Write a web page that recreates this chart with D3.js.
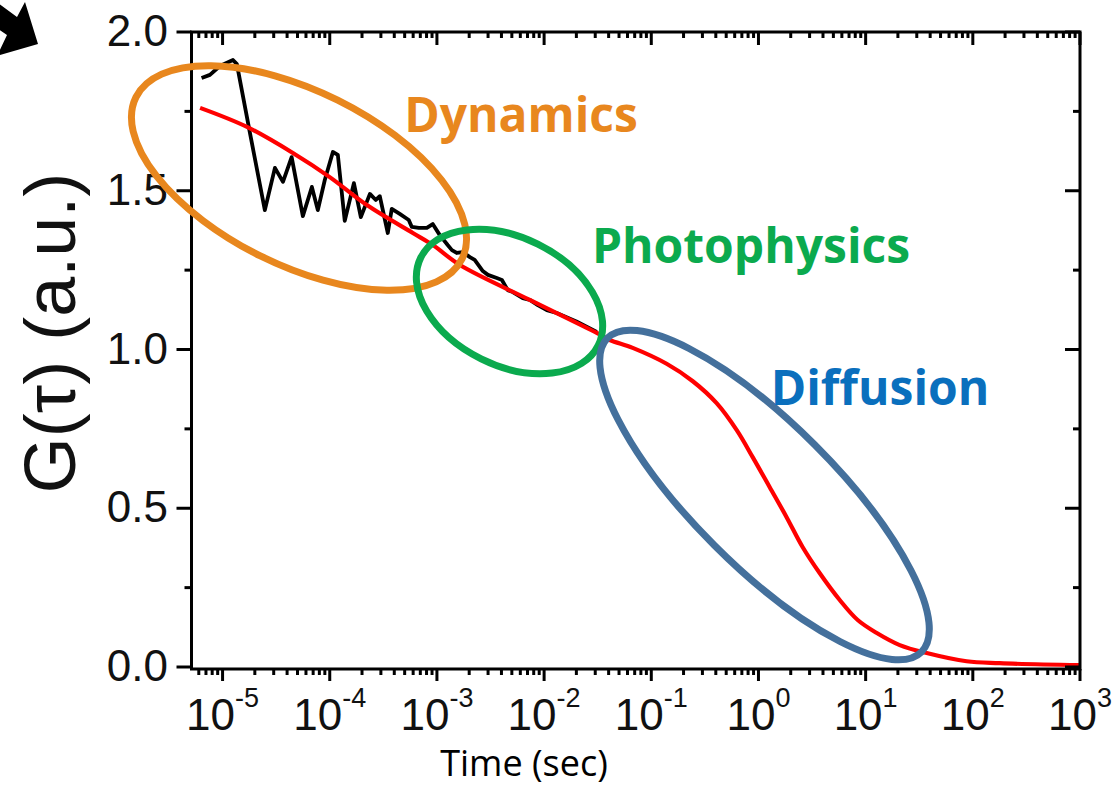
<!DOCTYPE html>
<html>
<head>
<meta charset="utf-8">
<script src="https://cdn.jsdelivr.net/npm/d3@7/dist/d3.min.js"></script>
<style>
  html, body { margin: 0; padding: 0; background: #fff; }
  svg { display: block; }
</style>
</head>
<body>
<svg id="chart" width="1113" height="788"></svg>
<script>
// ---------------- data ----------------
const fitTime = [6.17e-6, 1.69e-5, 4.53e-5, 1.00e-4, 2.22e-4, 5.96e-4, 9.16e-4, 1.64e-3, 7.35e-3,
  0.0310, 0.0410, 0.0671, 0.139, 0.244, 0.407, 0.627, 0.883, 1.27, 1.83, 2.58, 3.72, 5.73, 8.43,
  12.7, 20.8, 37.1, 87.5, 178, 1000];
const fitG = [1.761, 1.701, 1.619, 1.543, 1.455, 1.367, 1.329, 1.266, 1.156,
  1.052, 1.030, 1.005, 0.955, 0.900, 0.831, 0.746, 0.661, 0.567, 0.472, 0.378, 0.296, 0.211, 0.148,
  0.107, 0.069, 0.044, 0.018, 0.012, 0.006];

const dataTime = [6.37e-6, 7.62e-6, 9.44e-6, 1.25e-5, 1.36e-5, 1.80e-5, 2.48e-5, 3.08e-5, 3.66e-5, 4.41e-5,
  5.61e-5, 6.81e-5, 7.74e-5, 8.99e-5, 1.07e-4, 1.19e-4, 1.38e-4, 1.68e-4, 1.95e-4, 2.37e-4,
  2.69e-4, 2.93e-4, 3.48e-4, 3.79e-4, 4.50e-4, 5.46e-4, 5.83e-4, 6.78e-4, 8.05e-4, 9.14e-4,
  1.06e-3, 1.26e-3, 1.38e-3, 1.53e-3, 1.74e-3, 2.03e-3, 2.25e-3, 2.68e-3, 2.99e-3, 3.62e-3,
  4.04e-3, 4.58e-3, 5.10e-3, 6.32e-3, 7.36e-3, 8.73e-3, 0.0106, 0.0131, 0.0200, 0.0310];
const dataG = [1.855, 1.865, 1.893, 1.912, 1.899, 1.682, 1.439, 1.572, 1.528, 1.606,
  1.420, 1.512, 1.439, 1.534, 1.622, 1.613, 1.405, 1.524, 1.417, 1.490,
  1.471, 1.483, 1.367, 1.443, 1.427, 1.408, 1.386, 1.383, 1.383, 1.395,
  1.361, 1.329, 1.313, 1.304, 1.307, 1.291, 1.282, 1.247, 1.235, 1.225,
  1.219, 1.187, 1.181, 1.162, 1.156, 1.140, 1.124, 1.115, 1.088, 1.055];

const yTicks = [0, 0.5, 1.0, 1.5, 2.0];
const yTickLabels = ["0.0", "0.5", "1.0", "1.5", "2.0"];
const yMinorTicks = [0.25, 0.75, 1.25, 1.75];
const xExponents = [-5, -4, -3, -2, -1, 0, 1, 2, 3];
const xTickLabelExp = ["-5", "-4", "-3", "-2", "-1", "0", "1", "2", "3"];

const regionLabels = ["Dynamics", "Photophysics", "Diffusion"];
const regionColors = ["#E8871E", "#0BAA4E", "#0A6FBD"];
const ellipseColors = ["#E8871E", "#0BAA4E", "#44709C"];

// ---------------- scales ----------------
const svg = d3.select("#chart");
const L = 191.5, R = 1080, T = 32, B = 669;
const x = d3.scaleLog().domain([5.13e-6, 1000]).range([L, R]);
const y = d3.scaleLinear().domain([0, 2]).range([667, 32]);

const minorX = [];
for (let e = -6; e <= 2; e++) for (let m = 2; m <= 9; m++) {
  const v = m * Math.pow(10, e);
  if (v >= x.domain()[0] && v <= 1000) minorX.push(v);
}
const majorX = xExponents.map(e => Math.pow(10, e));

// ---------------- curves ----------------
const dataPts = dataTime.map((t, i) => [x(t), y(dataG[i])]);
const fitPts = fitTime.map((t, i) => [x(t), y(fitG[i])]);

svg.append("path")
  .attr("d", d3.line().curve(d3.curveLinear)(dataPts))
  .attr("fill", "none").attr("stroke", "#000").attr("stroke-width", 3.8)
  .attr("stroke-linejoin", "round");

svg.append("path")
  .attr("d", d3.line().curve(d3.curveCatmullRom.alpha(0.5))(fitPts))
  .attr("fill", "none").attr("stroke", "#FF0000").attr("stroke-width", 4.2);

// ---------------- frame & ticks ----------------
const axisG = svg.append("g").attr("stroke", "#000").attr("stroke-width", 3).attr("fill", "none");
axisG.append("path").attr("d", `M${L},${T}H${R}V${B}H${L}Z`).attr("stroke-linecap", "square");

yTicks.forEach(v => {
  axisG.append("line").attr("x1", L - 15).attr("x2", L).attr("y1", y(v)).attr("y2", y(v));
  axisG.append("line").attr("x1", R - 15).attr("x2", R).attr("y1", y(v)).attr("y2", y(v));
});
yMinorTicks.forEach(v => {
  axisG.append("line").attr("x1", L - 7).attr("x2", L).attr("y1", y(v)).attr("y2", y(v));
  axisG.append("line").attr("x1", R - 7).attr("x2", R).attr("y1", y(v)).attr("y2", y(v));
});
majorX.forEach(v => {
  axisG.append("line").attr("x1", x(v)).attr("x2", x(v)).attr("y1", B).attr("y2", B + 12);
  axisG.append("line").attr("x1", x(v)).attr("x2", x(v)).attr("y1", T).attr("y2", T + 13);
});
minorX.forEach(v => {
  axisG.append("line").attr("x1", x(v)).attr("x2", x(v)).attr("y1", B).attr("y2", B + 6);
  axisG.append("line").attr("x1", x(v)).attr("x2", x(v)).attr("y1", T).attr("y2", T + 6);
});

// ---------------- tick labels ----------------
const tickFont = "'Liberation Sans', Arial, sans-serif";
svg.append("g").selectAll("text").data(yTicks).join("text")
  .attr("x", 168).attr("y", d => y(d) + 14)
  .attr("text-anchor", "end")
  .attr("font-family", tickFont).attr("font-size", 44).attr("fill", "#111")
  .text((d, i) => yTickLabels[i]);

const xl = svg.append("g").selectAll("text").data(majorX).join("text")
  .attr("x", d => x(d)).attr("y", 730)
  .attr("text-anchor", "middle")
  .attr("font-family", tickFont).attr("fill", "#111");
xl.append("tspan").attr("font-size", 44).text("10");
xl.append("tspan").attr("font-size", 27).attr("dy", -23).text((d, i) => xTickLabelExp[i]);

// ---------------- axis titles ----------------
svg.append("text")
  .attr("x", 524).attr("y", 776)
  .attr("text-anchor", "middle")
  .attr("font-family", "'Open Sans', sans-serif").attr("font-size", 36).attr("fill", "#000")
  .text("Time (sec)");

svg.append("text")
  .attr("transform", "translate(75,333) rotate(-90)")
  .attr("text-anchor", "middle")
  .attr("font-family", tickFont).attr("font-size", 72).attr("fill", "#111")
  .text("G(τ) (a.u.)");

// ---------------- annotation ellipses ----------------
const ellipses = [
  {cx: 299, cy: 178, rx: 182, ry: 87, rot: 26.4},
  {cx: 509.5, cy: 301.5, rx: 99, ry: 64, rot: 26.3},
  {cx: 764.5, cy: 495, rx: 222, ry: 71, rot: 45}
];
svg.append("g").selectAll("ellipse").data(ellipses).join("ellipse")
  .attr("transform", d => `translate(${d.cx},${d.cy}) rotate(${d.rot})`)
  .attr("rx", d => d.rx).attr("ry", d => d.ry)
  .attr("fill", "none").attr("stroke", (d, i) => ellipseColors[i]).attr("stroke-width", 7);

const labelPos = [[521, 132], [751, 263], [880, 405]];
svg.append("g").selectAll("text").data(regionLabels).join("text")
  .attr("x", (d, i) => labelPos[i][0]).attr("y", (d, i) => labelPos[i][1])
  .attr("text-anchor", "middle")
  .attr("font-family", "'Open Sans', sans-serif").attr("font-weight", "bold")
  .attr("font-size", 48)
  .attr("fill", (d, i) => regionColors[i])
  .text(d => d);

// ---------------- corner arrow ----------------
svg.append("path")
  .attr("d", "M38,44 L25,2 L17,17 L-20,-10 L-30,10 L7,35 L-3,56 Z")
  .attr("fill", "#000");
</script>
</body>
</html>
